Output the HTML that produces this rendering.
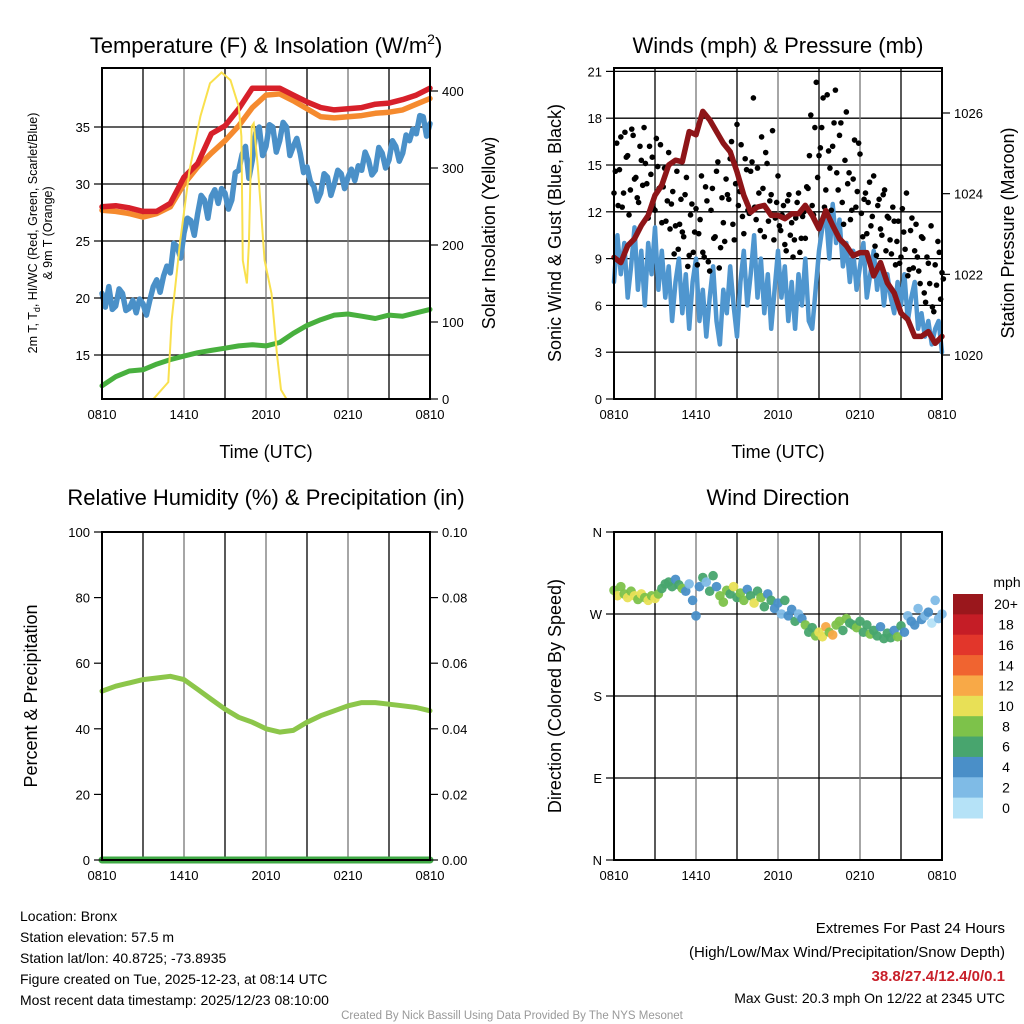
<!DOCTYPE html>
<html><head><meta charset="utf-8"><style>
body{margin:0;background:#fff;width:1024px;height:1024px;overflow:hidden}
svg{display:block;font-family:"Liberation Sans",sans-serif}
</style></head><body>
<svg id="c" width="1024" height="1024" viewBox="0 0 1024 1024"></svg>
<script>
// ---------- data ----------
const timeTicks = ["0810","1410","2010","0210","0810"];
const tempTicks = [15,20,25,30,35];
const solarTicks = [0,100,200,300,400];
const windTicks = [0,3,6,9,12,15,18,21];
const presTicks = [1020,1022,1024,1026];
const rhTicks = [0,20,40,60,80,100];
const precipTicks = ["0.00","0.02","0.04","0.06","0.08","0.10"];
const dirTickLabels = ["N","E","S","W","N"];
const dirTickValues = [0,90,180,270,360];
// hourly (h=0..24)
const tempRed = [28.0,28.1,27.9,27.6,27.6,28.3,30.6,31.8,34.4,35.1,36.6,38.4,38.4,38.4,37.8,37.2,36.7,36.5,36.6,36.7,37.0,37.1,37.4,37.8,38.4];
const tempOrange = [27.7,27.6,27.4,27.1,27.4,28.0,30.0,31.5,32.7,33.8,35.1,36.7,37.8,37.9,37.3,36.6,35.9,35.8,35.9,36.0,36.2,36.3,36.5,37.0,37.5];
const dewGreen = [12.3,13.1,13.6,13.7,14.2,14.6,14.9,15.2,15.4,15.6,15.8,15.9,15.8,16.1,16.9,17.6,18.1,18.5,18.6,18.4,18.2,18.5,18.4,18.7,19.0];
// quarter-hourly (h=0..24 step 0.25)
const windChillBlue = [20.4,19.2,21.0,19.0,19.3,20.8,20.4,18.9,19.1,19.8,18.7,19.9,19.5,18.5,19.8,21.0,21.6,20.5,21.9,22.8,22.2,24.8,24.5,23.5,25.7,27.0,26.8,25.5,27.4,29.0,28.6,27.0,28.9,29.5,28.3,29.6,29.2,27.8,28.6,31.0,31.2,32.6,33.3,30.5,32.1,34.5,35.0,32.5,33.3,35.2,35.0,32.8,33.8,35.4,35.0,32.5,33.3,34.0,32.7,31.0,31.5,30.2,29.8,28.5,29.2,30.9,30.6,29.0,30.0,31.2,30.9,29.6,30.6,31.3,30.3,31.6,31.2,32.8,32.1,30.8,31.2,33.2,32.7,31.4,32.1,33.8,33.3,32.0,32.7,34.3,33.8,34.8,34.4,36.0,35.9,34.2,35.3];
const solarHours = [0,3.76,4.85,5.1,5.7,6.4,7.2,7.9,8.75,9.4,10.0,10.2,10.3,10.6,10.75,10.95,11.1,11.4,11.9,12.4,12.8,13.1,13.5,24];
const solarValues = [0,0,22,103,202,297,367,410,424,414,380,341,180,150,202,354,358,302,180,137,59,12,0,0];
// half-hourly
const pressure = [1022.42,1022.29,1022.71,1022.88,1023.21,1023.46,1023.96,1024.21,1024.71,1024.83,1024.79,1025.54,1025.46,1026.04,1025.83,1025.54,1025.25,1025.04,1024.54,1023.96,1023.54,1023.67,1023.71,1023.46,1023.46,1023.38,1023.5,1023.5,1023.71,1023.46,1023.13,1023.58,1023.21,1022.88,1022.71,1022.46,1022.54,1022.54,1021.96,1022.29,1021.79,1021.54,1021.04,1020.88,1020.46,1020.46,1020.58,1020.29,1020.46];
// quarter-hourly
const windSpeed = [7.5,10.5,8.0,10.0,6.5,8.5,11.0,7.0,9.5,6.0,10.0,8.0,11.0,7.0,9.5,6.5,8.5,5.0,7.5,9.0,5.5,8.0,4.5,7.5,9.0,5.0,7.0,4.0,6.5,8.5,5.0,3.5,7.0,5.5,8.5,6.0,4.0,7.5,9.5,6.0,8.0,10.5,6.5,9.0,5.5,8.0,4.5,7.0,9.5,6.5,8.5,5.0,7.5,4.5,8.0,6.0,9.0,5.0,4.5,7.0,9.5,11.0,12.0,9.0,12.5,10.0,11.5,8.5,10.0,7.5,9.5,7.0,8.5,10.0,6.5,8.0,9.5,7.0,8.5,6.0,8.0,6.5,5.5,7.5,6.0,8.0,5.0,6.5,7.5,4.5,5.5,4.0,5.0,3.5,4.5,5.0,3.0];
// gusts every 0.2 h starting 0.0, and every 0.2 h starting 0.1
const windGust = [13.2,16.4,14.7,12.3,17.1,15.6,13.4,16.9,14.2,12.6,15.3,17.4,13.8,16.2,15.5,12.1,14.9,16.3,13.6,11.4,15.8,12.5,9.3,14.6,11.2,10.7,13.1,8.5,11.8,9.4,12.2,10.6,14.3,9.1,12.7,8.2,13.5,10.4,15.2,9.7,11.3,14.1,12.8,16.5,10.2,17.6,13.3,11.7,15.4,12.1,14.6,19.3,11.5,13.2,16.8,10.4,15.1,12.7,17.2,11.6,14.3,10.8,12.4,9.5,13.1,11.3,10.2,12.6,9.4,11.7,10.3,13.5,18.2,11.8,20.3,15.6,17.4,12.3,19.5,14.8,16.2,19.8,13.4,17.7,11.2,18.4,14.5,12.1,16.6,13.3,15.7,10.4,13.2,12.6,11.1,14.3,9.2,12.8,10.5,13.4,11.7,10.2,12.3,8.6,11.4,9.1,10.7,13.2,8.3,11.6,9.5,9.1,7.4,10.3,6.2,8.7,11.1,5.6,7.3,9.4,8.1];
const windGust2 = [14.6,12.4,16.8,13.2,15.5,11.8,17.3,14.1,12.9,16.2,13.7,15.1,11.6,14.4,12.2,16.7,13.5,11.3,14.8,12.7,10.9,13.3,11.1,9.6,12.8,10.4,14.2,9.2,12.5,10.7,8.6,11.5,9.4,13.6,8.8,12.1,10.3,14.6,8.4,12.9,10.1,13.1,15.4,11.2,13.8,12.4,16.3,10.6,14.7,11.9,15.2,12.3,14.8,10.8,13.5,15.8,11.4,13.1,10.2,12.6,11.1,11.8,9.9,12.7,10.5,9.1,11.6,13.2,10.3,12.0,13.6,15.6,12.4,17.4,14.2,16.1,19.3,13.4,15.9,12.1,17.7,14.5,16.9,12.6,15.3,13.8,11.5,14.1,12.3,16.4,11.9,12.8,10.6,13.9,11.7,9.8,12.4,10.9,13.1,9.5,11.6,9.3,11.4,10.1,8.7,12.2,9.6,7.9,10.8,8.4,11.2,8.2,10.4,6.8,9.1,7.4,5.9,8.6,10.1,6.4,7.7];
const relHum = [51.5,53,54,55,55.5,56,55,52,49,46,43.5,42,40,39,39.5,42,44,45.5,47,48,48,47.5,47,46.5,45.5];
const precip = [0,0,0,0,0,0,0,0,0,0,0,0,0,0,0,0,0,0,0,0,0,0,0,0,0];
// every 0.25 h
const windDir = [296,290,300,292,288,295,290,286,292,288,285,290,287,292,298,303,305,300,308,302,298,295,303,285,268,300,310,305,295,312,300,290,283,296,292,300,288,293,285,297,290,282,295,288,278,292,285,276,282,270,285,268,275,262,270,265,258,250,255,246,250,245,256,250,247,258,262,252,265,260,258,255,262,250,258,248,252,246,256,243,249,244,252,245,257,250,268,262,258,276,264,268,272,260,285,265,270];
const dirSpeed = [8,10,9,8,10,9,11,8,10,9,10,8,10,8,7,6,6,7,5,6,9,4,3,5,5,4,7,3,6,7,4,8,8,9,7,10,6,8,9,5,7,10,6,8,6,4,7,5,4,3,6,4,4,6,3,5,8,7,6,8,10,11,12,9,12,8,9,7,8,6,7,8,6,7,6,8,6,7,5,6,7,6,5,8,6,4,3,5,4,2,5,3,4,1,3,2,3];
const speedBins = ["0","2","4","6","8","10","12","14","16","18","20+"];
const binColors = ["#b5e2f7","#7fbbe6","#4a8fc8","#48a56e","#7dc24a","#e8e056","#f8a947","#f06430","#e2362b","#c51d26","#9a171c"];

// ---------- helpers ----------
const NS="http://www.w3.org/2000/svg";
const svg=document.getElementById('c');
function mk(tag,attrs,parent){const e=document.createElementNS(NS,tag);for(const k in attrs)e.setAttribute(k,attrs[k]);(parent||svg).appendChild(e);return e;}
function txt(s,x,y,size,anchor,parent,extra){const e=mk('text',Object.assign({x:x,y:y,'font-size':size,'text-anchor':anchor||'middle',fill:'#000'},extra||{}),parent);e.textContent=s;return e;}
function lin(d0,d1,r0,r1){return v=>r0+(v-d0)*(r1-r0)/(d1-d0);}

function panel(name,L,T,R,B){
  const g=mk('g',{});
  
  
  const x=lin(0,24,L,R);
  return {g,x,L,T,R,B};
}
function vgrid(p){
  for(let h=3;h<24;h+=3){const l=mk('line',{x1:p.x(h),x2:p.x(h),y1:p.T,y2:p.B,stroke:(h%6==0)?'#777':'#000','stroke-width':1.3},p.g);
    }
  timeTicks.forEach((t,i)=>{const e=txt(t,p.x(i*6),p.B+20,13,'middle',p.g);
    });
}
function frame(p){const r=mk('rect',{x:p.L,y:p.T,width:p.R-p.L,height:p.B-p.T,fill:'none',stroke:'#000','stroke-width':2},p.g);
  }
function pathOf(xs,ys){return xs.map((v,i)=>(i?'L':'M')+v.toFixed(1)+' '+ys[i].toFixed(1)).join('');}
function series(p,vals,step,yf,color,w,name){
  const xs=vals.map((v,i)=>p.x(i*step)),ys=vals.map(v=>yf(v));
  const e=mk('path',{d:pathOf(xs,ys),fill:'none',stroke:color,'stroke-width':w,'stroke-linejoin':'round','stroke-linecap':'round'},p.g);
  return e;}
function leftTicks(p,vals,yf,labels){
  vals.forEach((v,i)=>{mk('line',{x1:p.L-8,x2:p.L,y1:yf(v),y2:yf(v),stroke:'#000','stroke-width':1.2},p.g);
    const e=txt(labels?labels[i]:String(v),p.L-12,yf(v)+5,13,'end',p.g);
    });
}
function rightTicks(p,vals,yf,labels){
  vals.forEach((v,i)=>{mk('line',{x1:p.R,x2:p.R+8,y1:yf(v),y2:yf(v),stroke:'#000','stroke-width':1.2},p.g);
    const e=txt(labels?labels[i]:String(v),p.R+12,yf(v)+5,13,'start',p.g);
    });
}
function hgrid(p,vals,yf){vals.forEach(v=>{const y=yf(v);if(y<=p.T+1||y>=p.B-1)return;
  const l=mk('line',{x1:p.L,x2:p.R,y1:y,y2:y,stroke:'#000','stroke-width':1.3},p.g);
  });}
function rot(s,x,y,size,parent,name){const e=txt(s,x,y,size,'middle',parent,{transform:`rotate(-90 ${x} ${y})`});
  return e;}
function title(s,x,y,name){const e=txt(s,x,y,22,'middle');return e;}

// ---------- panel 1 ----------
{
const p=panel('temperature-panel',102,68,430,399);
const yT=lin(15,35,355,127), yS=lin(0,400,399,91);
hgrid(p,tempTicks,yT); vgrid(p);
series(p,tempOrange,1,yT,'#f58a2e',5.5,'orange-9m-temp-line');
series(p,tempRed,1,yT,'#d7202a',5.5,'red-2m-temp-line');
series(p,windChillBlue,0.25,yT,'#4a90c8',5.5,'blue-windchill-line');
series(p,dewGreen,1,yT,'#48b03e',5,'green-dewpoint-line');
const sx=solarHours.map(h=>p.x(h)),sy=solarValues.map(v=>yS(v));
const sp=mk('path',{d:pathOf(sx,sy),fill:'none',stroke:'#f9e04d','stroke-width':2},p.g);

frame(p);
leftTicks(p,tempTicks,yT); rightTicks(p,solarTicks,yS);
const t=txt('',266,53,22);t.innerHTML='Temperature (F) &amp; Insolation (W/m<tspan dy="-9" font-size="14">2</tspan><tspan dy="9">)</tspan>';

const yl=txt('',37,233,12.5,'middle',p.g,{transform:'rotate(-90 37 233)'});
yl.innerHTML='2m T, T<tspan dy="3" font-size="9">d</tspan><tspan dy="-3">, HI/WC (Red, Green, Scarlet/Blue)</tspan>';

rot('& 9m T (Orange)',52,233,12.5,p.g,'temperature-y-axis-title-line2');
rot('Solar Insolation (Yellow)',495,233,18,p.g,'solar-y-axis-title');
const xt=txt('Time (UTC)',266,458,18,'middle',p.g);
}
// ---------- panel 2 ----------
{
const p=panel('winds-panel',614,68,942,399);
const yW=lin(0,21,399,71.4), yP=lin(1020,1026,355,113);
hgrid(p,windTicks,yW); vgrid(p);
series(p,windSpeed,0.25,yW,'#4f96cf',4.5,'sonic-wind-line');
windGust.forEach((v,i)=>{const c=mk('circle',{cx:p.x(i*0.2),cy:yW(v),r:2.8,fill:'#000'},p.g);
  });
windGust2.forEach((v,i)=>{const c=mk('circle',{cx:p.x(0.1+i*0.2),cy:yW(v),r:2.8,fill:'#000'},p.g);
  });
series(p,pressure,0.5,yP,'#8e1518',5.5,'pressure-line');
frame(p);
leftTicks(p,windTicks,yW); rightTicks(p,presTicks,yP);
title('Winds (mph) & Pressure (mb)',778,53,'winds-panel-title');
rot('Sonic Wind & Gust (Blue, Black)',561,233,18,p.g,'wind-y-axis-title');
rot('Station Pressure (Maroon)',1014,233,18,p.g,'pressure-y-axis-title');
const xt=txt('Time (UTC)',778,458,18,'middle',p.g);
}
// ---------- panel 3 ----------
{
const p=panel('humidity-panel',102,532,430,860);
const yR=lin(0,100,860,532), yPr=lin(0,0.1,860,532);
vgrid(p);
series(p,relHum,1,yR,'#8cc64a',5,'relative-humidity-line');
series(p,precip,1,yPr,'#3fa945',7,'precipitation-line');
frame(p);
leftTicks(p,rhTicks,yR); rightTicks(p,[0,0.02,0.04,0.06,0.08,0.1],yPr,precipTicks);
title('Relative Humidity (%) & Precipitation (in)',266,505,'humidity-panel-title');
rot('Percent & Precipitation',37,696,18,p.g,'humidity-y-axis-title');
}
// ---------- panel 4 ----------
{
const p=panel('wind-direction-panel',614,532,942,860);
const yD=lin(0,360,860,532);
hgrid(p,dirTickValues,yD); vgrid(p);
windDir.forEach((d,i)=>{const b=Math.min(10,Math.floor(dirSpeed[i]/2));
  const c=mk('circle',{cx:p.x(i*0.25),cy:yD(d),r:4.8,fill:binColors[b],'fill-opacity':0.95},p.g);
  });
frame(p);
leftTicks(p,dirTickValues,yD,dirTickLabels);
title('Wind Direction',778,505,'wind-direction-panel-title');
rot('Direction (Colored By Speed)',561,696,18,p.g,'direction-y-axis-title');
const lg=mk('g',{});
const bh=(818-594)/11;
speedBins.forEach((s,i)=>{const k=10-i;const y=594+i*bh;
  const r=mk('rect',{x:953,y:y,width:30,height:bh+0.5,fill:binColors[k]},lg);
  
  const t=txt(speedBins[k],1006,y+bh/2+5,14,'middle',lg);});
const m=txt('mph',1007,587,14,'middle',lg);
}
// ---------- footer ----------
const info=["Location: Bronx","Station elevation: 57.5 m","Station lat/lon: 40.8725; -73.8935","Figure created on Tue, 2025-12-23, at 08:14 UTC","Most recent data timestamp: 2025/12/23 08:10:00"];
info.forEach((s,i)=>{const e=txt(s,20,921+i*21,14,'start');});
[["Extremes For Past 24 Hours",933,15,'#000'],["(High/Low/Max Wind/Precipitation/Snow Depth)",957,15,'#000'],["38.8/27.4/12.4/0/0.1",981,15,'#c8202a'],["Max Gust: 20.3 mph On 12/22 at 2345 UTC",1003,14,'#000']].forEach((a,i)=>{
  const e=txt(a[0],1005,a[1],a[2],'end',null,{fill:a[3]});if(i==2)e.setAttribute('font-weight','bold');
  });
const cr=txt('Created By Nick Bassill Using Data Provided By The NYS Mesonet',512,1019,11.5,'middle',null,{fill:'#999'});

</script>
</body></html>
